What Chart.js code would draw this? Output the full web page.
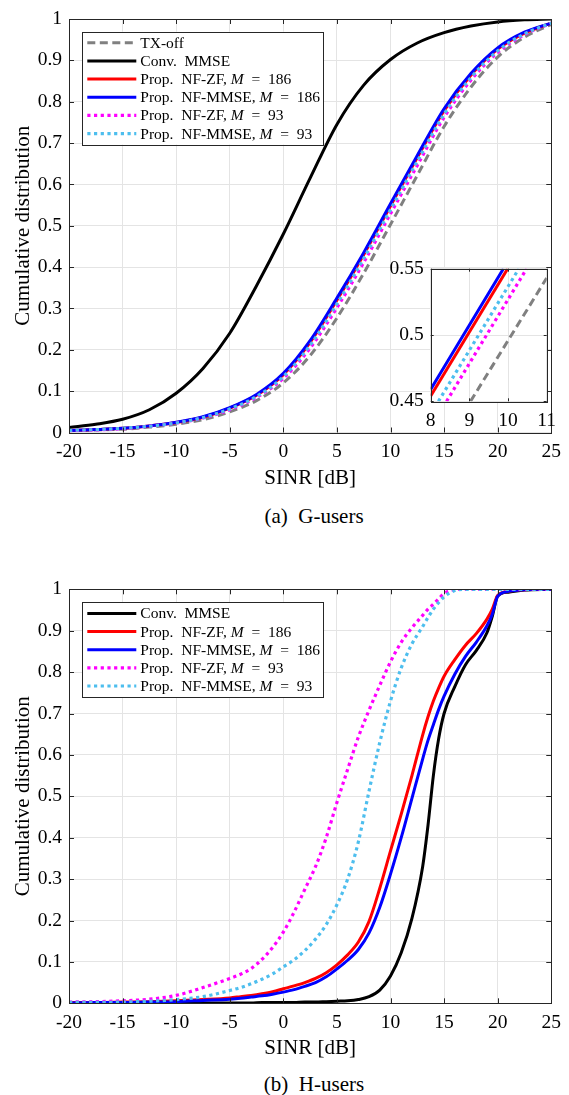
<!DOCTYPE html>
<html>
<head>
<meta charset="utf-8">
<script src="https://cdn.jsdelivr.net/npm/chart.js@4.4.0/dist/chart.umd.min.js"></script>
<style>
  body { margin: 0; background: #fff; }
  #wrap { position: relative; width: 569px; height: 1095px; overflow: hidden; }
  canvas { position: absolute; }
  .cap { position: absolute; left: 69px; width: 490px; height: 24px; line-height: 24px;
         text-align: center; font: 21px "Liberation Serif", "Times New Roman", serif; color: #000; }
</style>
</head>
<body>
<div id="wrap">
  <canvas id="gChart" style="left:0;top:0" width="569" height="500"></canvas>
  <canvas id="gZoom" style="left:380px;top:250px" width="189" height="185"></canvas>
  <div class="cap" style="top:504px">(a)&nbsp;&nbsp;G-users</div>
  <canvas id="hChart" style="left:0;top:570px" width="569" height="500"></canvas>
  <div class="cap" style="top:1072px">(b)&nbsp;&nbsp;H-users</div>
</div>
<script>
const FONT = 'Liberation Serif, Times New Roman, serif';
Chart.defaults.font.family = FONT;

// ---- G-users: CDF of SINR ----
const sinrG = [-20, -17.5, -15, -12.5, -10, -7.5, -5, -2.5, 0, 2.5, 5, 7.5, 10, 12.5, 15, 17.5, 20, 22.5, 25];
const gTxOff    = [0.004, 0.006, 0.008, 0.013, 0.02, 0.031, 0.05, 0.077, 0.12, 0.186, 0.277, 0.385, 0.503, 0.622, 0.74, 0.835, 0.908, 0.956, 0.987];
const gConvMmse = [0.012, 0.02, 0.032, 0.055, 0.095, 0.155, 0.24, 0.355, 0.48, 0.615, 0.745, 0.84, 0.902, 0.942, 0.967, 0.983, 0.993, 0.998, 1.0];
const gZf186    = [0.005, 0.007, 0.01, 0.016, 0.024, 0.037, 0.059, 0.09, 0.14, 0.218, 0.32, 0.43, 0.548, 0.665, 0.778, 0.864, 0.927, 0.966, 0.99];
const gMmse186  = [0.005, 0.007, 0.01, 0.016, 0.025, 0.038, 0.06, 0.092, 0.143, 0.222, 0.325, 0.435, 0.553, 0.67, 0.783, 0.868, 0.93, 0.968, 0.99];
const gZf93     = [0.004, 0.006, 0.009, 0.015, 0.023, 0.035, 0.055, 0.085, 0.131, 0.204, 0.302, 0.411, 0.529, 0.646, 0.762, 0.852, 0.919, 0.962, 0.99];
const gMmse93   = [0.005, 0.007, 0.01, 0.015, 0.023, 0.036, 0.057, 0.087, 0.135, 0.211, 0.311, 0.421, 0.539, 0.656, 0.77, 0.858, 0.923, 0.964, 0.99];

// zoomed window around the median (8..11 dB)
const zTxOffX   = [9.03, 11],    zTxOffY   = [0.45, 0.543];
const zZf186X   = [8, 9.99],     zZf186Y   = [0.454, 0.55];
const zMmse186X = [8, 9.88],     zMmse186Y = [0.459, 0.55];
const zZf93X    = [8.41, 10.48], zZf93Y    = [0.45, 0.55];
const zMmse93X  = [8.2, 10.28],  zMmse93Y  = [0.45, 0.55];

// ---- H-users: CDF of SINR ----
const sinrH = [-20, -17.5, -15, -12.5, -10, -7.5, -5, -4, -3, -2, -1, 0, 1, 2, 3, 4, 5, 6, 7, 8, 9, 10, 11, 12, 13, 13.5, 14, 14.5, 15, 16, 17, 18, 19, 19.5, 20, 21, 22.5, 25];
const hConvMmse = [0.001, 0.001, 0.001, 0.001, 0.001, 0.001, 0.001, 0.001, 0.001, 0.002, 0.002, 0.002, 0.002, 0.003, 0.003, 0.004, 0.005, 0.006, 0.009, 0.016, 0.032, 0.066, 0.122, 0.205, 0.33, 0.43, 0.55, 0.64, 0.70, 0.765, 0.818, 0.852, 0.895, 0.935, 0.984, 0.993, 0.998, 1.0];
const hZf186    = [0.002, 0.002, 0.003, 0.004, 0.006, 0.009, 0.013, 0.016, 0.019, 0.023, 0.028, 0.035, 0.042, 0.05, 0.06, 0.074, 0.093, 0.117, 0.148, 0.198, 0.278, 0.368, 0.457, 0.55, 0.648, 0.692, 0.73, 0.762, 0.79, 0.83, 0.865, 0.893, 0.928, 0.952, 0.985, 0.995, 0.999, 1.0];
const hMmse186  = [0.001, 0.002, 0.002, 0.003, 0.004, 0.007, 0.01, 0.012, 0.015, 0.018, 0.022, 0.027, 0.033, 0.041, 0.05, 0.064, 0.083, 0.104, 0.13, 0.17, 0.232, 0.312, 0.40, 0.495, 0.59, 0.635, 0.673, 0.71, 0.742, 0.795, 0.838, 0.872, 0.912, 0.94, 0.983, 0.995, 0.999, 1.0];
const hZf93     = [0.003, 0.004, 0.006, 0.01, 0.019, 0.038, 0.06, 0.07, 0.084, 0.106, 0.135, 0.172, 0.22, 0.275, 0.33, 0.40, 0.485, 0.565, 0.643, 0.708, 0.768, 0.825, 0.872, 0.907, 0.937, 0.952, 0.964, 0.977, 0.99, 0.999, 1, 1, 1, 1, 1, 1, 1, 1];
const hMmse93   = [0.002, 0.002, 0.003, 0.005, 0.009, 0.016, 0.031, 0.038, 0.047, 0.058, 0.071, 0.088, 0.105, 0.127, 0.155, 0.19, 0.238, 0.30, 0.39, 0.513, 0.63, 0.73, 0.81, 0.868, 0.91, 0.932, 0.952, 0.968, 0.982, 0.997, 1, 1, 1, 1, 1, 1, 1, 1];

const yTickLabels = ['0', '0.1', '0.2', '0.3', '0.4', '0.5', '0.6', '0.7', '0.8', '0.9', '1'];

// line styles (MATLAB-ish colours)
const sty = {
  txOff:   { color: '#808080', dash: [8, 4.5],   width: 3 },
  conv:    { color: '#000000', dash: [],         width: 3 },
  zf186:   { color: '#ff0000', dash: [],         width: 3 },
  mmse186: { color: '#0000ff', dash: [],         width: 3 },
  zf93:    { color: '#ff00ff', dash: [3.2, 3.5], width: 3.2 },
  mmse93:  { color: '#4dbeee', dash: [3.2, 3.5], width: 3.2 }
};

function series(label, xs, ys, s) {
  return {
    label: label,
    data: xs.map((x, i) => ({ x: x, y: ys[i] })),
    borderColor: s.color,
    borderDash: s.dash,
    borderWidth: s.width,
    pointRadius: 0,
    fill: false,
    cubicInterpolationMode: 'monotone'
  };
}

// later datasets on top, like MATLAB's plot order
function stack(sets) {
  sets.forEach((d, i) => { d.order = sets.length - i; });
  return sets;
}

// white plot area, box and inward ticks on all four sides
const matlabAxes = {
  id: 'matlabAxes',
  beforeDraw(chart) {
    const { ctx, chartArea: a } = chart;
    ctx.save();
    ctx.fillStyle = '#fff';
    ctx.fillRect(a.left, a.top, a.right - a.left, a.bottom - a.top);
    ctx.restore();
  },
  afterDraw(chart, args, opts) {
    const { ctx, chartArea: a, scales } = chart;
    const len = opts.tick || 5;
    ctx.save();
    ctx.strokeStyle = '#262626';
    ctx.lineWidth = 1;
    ctx.setLineDash([]);
    ctx.beginPath();
    scales.x.ticks.forEach(t => {
      const p = Math.round(scales.x.getPixelForValue(t.value)) + 0.5;
      ctx.moveTo(p, a.bottom); ctx.lineTo(p, a.bottom - len);
      ctx.moveTo(p, a.top); ctx.lineTo(p, a.top + len);
    });
    scales.y.ticks.forEach(t => {
      const p = Math.round(scales.y.getPixelForValue(t.value)) + 0.5;
      ctx.moveTo(a.left, p); ctx.lineTo(a.left + len, p);
      ctx.moveTo(a.right, p); ctx.lineTo(a.right - len, p);
    });
    ctx.stroke();
    ctx.strokeRect(Math.round(a.left) + 0.5, Math.round(a.top) + 0.5,
                   Math.round(a.right - a.left), Math.round(a.bottom - a.top));
    ctx.restore();
  }
};

// boxed legend; text between $..$ is set in italics
const boxLegend = {
  id: 'boxLegend',
  afterDraw(chart, args, o) {
    if (!o.show) return;
    const { ctx, chartArea: a } = chart;
    const sets = chart.data.datasets;
    const left = a.left + o.dx, top = a.top + o.dy;
    const h = sets.length * o.rowH + o.pad;
    ctx.save();
    ctx.fillStyle = '#fff';
    ctx.fillRect(left, top, o.width, h);
    ctx.strokeStyle = '#262626';
    ctx.lineWidth = 1;
    ctx.strokeRect(Math.round(left) + 0.5, Math.round(top) + 0.5, Math.round(o.width), Math.round(h));
    sets.forEach((ds, i) => {
      const cy = top + o.pad / 2 + o.rowH * (i + 0.5);
      ctx.beginPath();
      ctx.setLineDash(ds.borderDash);
      ctx.strokeStyle = ds.borderColor;
      ctx.lineWidth = ds.borderWidth;
      ctx.moveTo(left + 5, cy);
      ctx.lineTo(left + 54, cy);
      ctx.stroke();
      ctx.setLineDash([]);
      let tx = left + 58;
      ctx.fillStyle = '#000';
      ctx.textBaseline = 'middle';
      ds.label.split('$').forEach((part, k) => {
        ctx.font = (k % 2 ? 'italic ' : '') + o.size + 'px ' + FONT;
        ctx.fillText(part, tx, cy + 1);
        tx += ctx.measureText(part).width;
      });
    });
    ctx.restore();
  }
};

function fmt(v) { return String(parseFloat(v.toFixed(2))); }

const tickFont = { family: FONT, size: 19.5 };
const titleFont = { family: FONT, size: 21 };

function cdfOptions(pad) {
  return {
    responsive: false,
    animation: false,
    layout: { padding: { top: pad.top, right: 10, left: 0, bottom: 0 } },
    plugins: {
      legend: { display: false },
      tooltip: { enabled: false },
      matlabAxes: { tick: 5 },
      boxLegend: { show: true, dx: 13.3, dy: 12.7, width: 241, rowH: 18.15, pad: 4, size: 15.5 }
    },
    scales: {
      x: {
        type: 'linear', min: -20, max: 25,
        afterFit: s => { s.height = pad.xAxis; },
        ticks: { stepSize: 5, padding: 8, color: '#000', font: tickFont, callback: v => fmt(v) },
        grid: { color: '#e4e4e4', drawTicks: false },
        border: { display: false },
        title: { display: true, text: 'SINR [dB]', color: '#000', font: titleFont, padding: { bottom: pad.title } }
      },
      y: {
        min: 0, max: 1,
        afterFit: s => { s.width = 69; },
        ticks: { stepSize: 0.1, padding: 7, color: '#000', font: tickFont,
                 callback: v => yTickLabels[Math.round(v * 10)] },
        grid: { color: '#e4e4e4', drawTicks: false },
        border: { display: false },
        title: { display: true, text: 'Cumulative distribution', color: '#000', font: titleFont, padding: { top: 11 } }
      }
    }
  };
}

const EQ = '\u2002=\u2002';

new Chart(document.getElementById('gChart'), {
  type: 'line',
  data: {
    datasets: stack([
      series('TX-off', sinrG, gTxOff, sty.txOff),
      series('Conv.  MMSE', sinrG, gConvMmse, sty.conv),
      series('Prop.  NF-ZF, $M$' + EQ + '186', sinrG, gZf186, sty.zf186),
      series('Prop.  NF-MMSE, $M$' + EQ + '186', sinrG, gMmse186, sty.mmse186),
      series('Prop.  NF-ZF, $M$' + EQ + '93', sinrG, gZf93, sty.zf93),
      series('Prop.  NF-MMSE, $M$' + EQ + '93', sinrG, gMmse93, sty.mmse93)
    ])
  },
  options: cdfOptions({ top: 19, xAxis: 67.5, title: 9 }),
  plugins: [matlabAxes, boxLegend]
});

new Chart(document.getElementById('gZoom'), {
  type: 'line',
  data: {
    datasets: stack([
      series('TX-off', zTxOffX, zTxOffY, sty.txOff),
      series('Prop. NF-ZF, M = 186', zZf186X, zZf186Y, sty.zf186),
      series('Prop. NF-MMSE, M = 186', zMmse186X, zMmse186Y, sty.mmse186),
      series('Prop. NF-ZF, M = 93', zZf93X, zZf93Y, sty.zf93),
      series('Prop. NF-MMSE, M = 93', zMmse93X, zMmse93Y, sty.mmse93)
    ])
  },
  options: {
    responsive: false,
    animation: false,
    layout: { padding: { top: 10.7, right: 22.3, left: 0, bottom: 0 } },
    plugins: {
      legend: { display: false },
      tooltip: { enabled: false },
      matlabAxes: { tick: 3 },
      boxLegend: { show: false }
    },
    scales: {
      x: {
        type: 'linear', min: 8, max: 11,
        afterFit: s => { s.height = 33.7; },
        ticks: { stepSize: 1, padding: 8, color: '#000', font: tickFont, callback: v => fmt(v) },
        grid: { color: '#e4e4e4', drawTicks: false },
        border: { display: false }
      },
      y: {
        min: 0.45, max: 0.55,
        afterFit: s => { s.width = 50.7; },
        ticks: { stepSize: 0.05, padding: 7, color: '#000', font: tickFont, callback: v => fmt(v) },
        grid: { color: '#e4e4e4', drawTicks: false },
        border: { display: false }
      }
    }
  },
  plugins: [matlabAxes]
});

const hOpts = cdfOptions({ top: 19.3, xAxis: 66.7, title: 9.1 });
hOpts.plugins.boxLegend.dy = 13;

new Chart(document.getElementById('hChart'), {
  type: 'line',
  data: {
    datasets: stack([
      series('Conv.  MMSE', sinrH, hConvMmse, sty.conv),
      series('Prop.  NF-ZF, $M$' + EQ + '186', sinrH, hZf186, sty.zf186),
      series('Prop.  NF-MMSE, $M$' + EQ + '186', sinrH, hMmse186, sty.mmse186),
      series('Prop.  NF-ZF, $M$' + EQ + '93', sinrH, hZf93, sty.zf93),
      series('Prop.  NF-MMSE, $M$' + EQ + '93', sinrH, hMmse93, sty.mmse93)
    ])
  },
  options: hOpts,
  plugins: [matlabAxes, boxLegend]
});
</script>
</body>
</html>
